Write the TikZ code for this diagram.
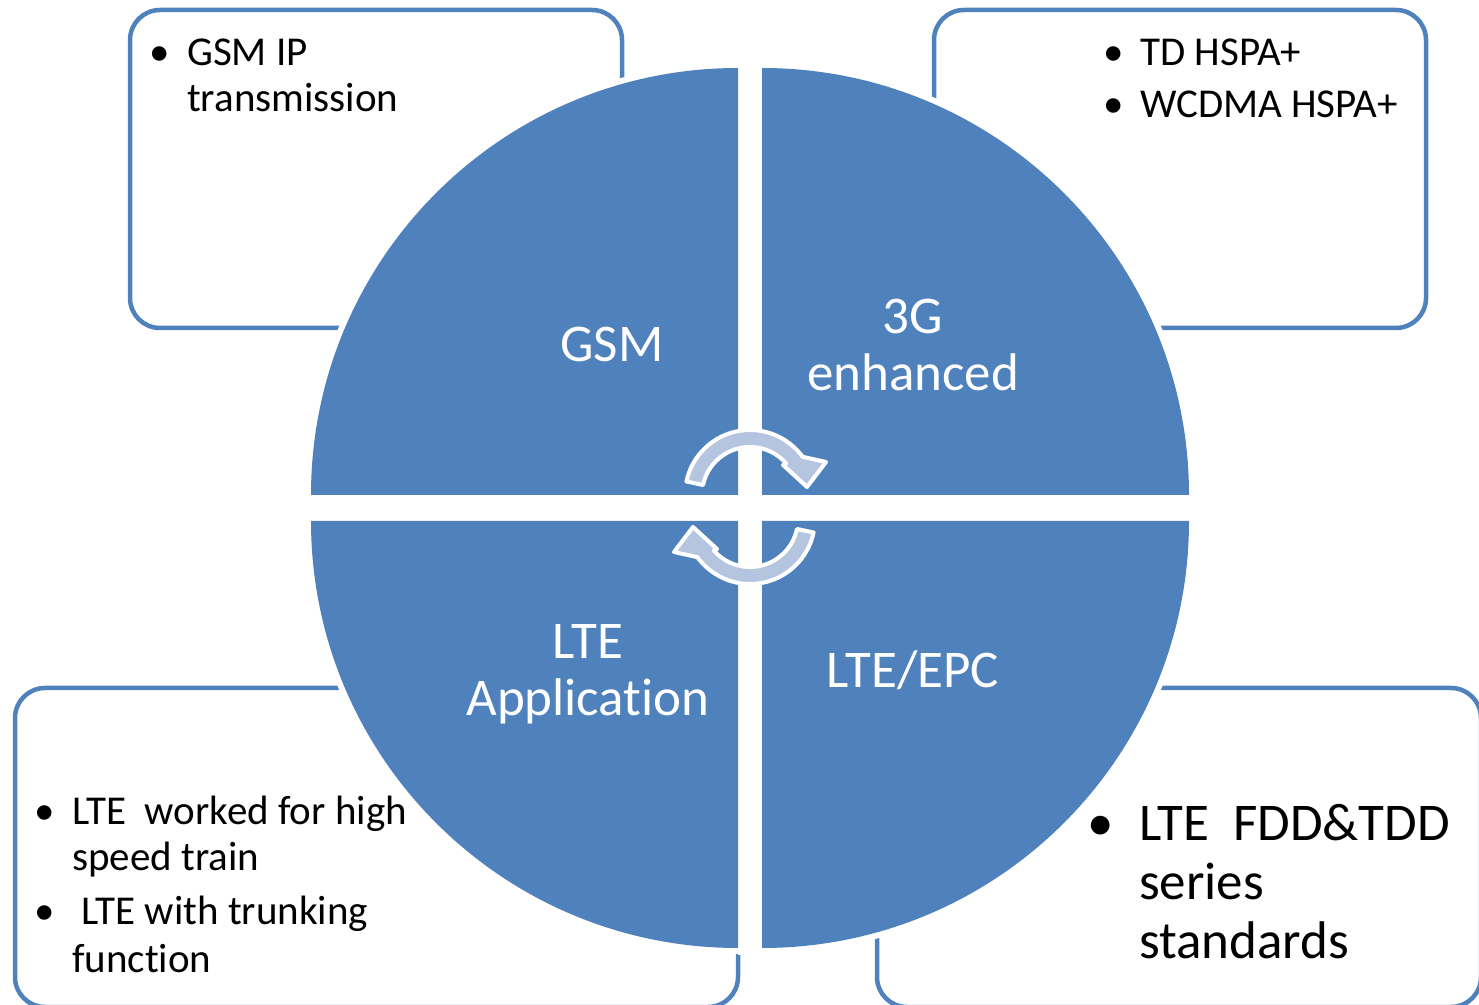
\documentclass[tikz,border=0pt]{standalone}
\usepackage{fontspec}
\setmainfont{Carlito}[Ligatures={NoCommon}]
\definecolor{qblue}{HTML}{4F81BD}
\definecolor{turnblue}{HTML}{B5C5E0}

\begin{document}
\begin{tikzpicture}
  [x=1pt,y=1pt,
    box/.style={draw=qblue,line width=4.5pt,rounded corners=30pt},
    halo/.style={fill=white},
    quad/.style={fill=qblue},
    lbl/.style={text=white,inner sep=0,anchor=base,align=center,
      font=\fontsize{53}{57}\selectfont},
    txt/.style={inner sep=0,anchor=base west,align=left,
      font=\fontsize{41}{46}\selectfont},
    bigtxt/.style={txt,font=\fontsize{53}{59}\selectfont},
    bul/.style={inner sep=0,anchor=base,font=\fontsize{41}{46}\selectfont},
    bigbul/.style={bul,font=\fontsize{53}{59}\selectfont},
    turn/.style={fill=turnblue,draw=white,line width=4pt,line join=round},
]

  \useasboundingbox (0,0) rectangle (1479,1004);

  \draw[box] (130,676) rectangle (622,994);
  \draw[box] (934,676) rectangle (1426,994);
  \draw[box] (15,-3) rectangle (738,316);
  \draw[box] (877,-3) rectangle (1481,316);

  \foreach \cx/\cy/\a in {738/509/90, 762/509/0, 738/483/180, 762/483/270}
    \fill[halo] (\cx,\cy) -- ++(\a:433)
      arc[start angle=\a, end angle=\a+90, radius=433] -- cycle;
  \fill[halo] (738,49) rectangle (762,947);

  \foreach \cx/\cy/\a in {738/509/90, 762/509/0, 738/483/180, 762/483/270}
    \fill[quad] (\cx,\cy) -- ++(\a:427)
      arc[start angle=\a, end angle=\a+90, radius=427] -- cycle;

  \foreach \r in {0,180} {
    \begin{scope}[shift={(750,497)},rotate=\r,shift={(0,12)}]
      \draw[turn] (168:65) arc[start angle=168, end angle=36, radius=65]
        -- (76,33) -- (57,8) -- (33,30) -- (41:48)
        arc[start angle=41, end angle=168, radius=48] -- cycle;
    \end{scope}
  }

  \node[lbl] (gsm) at (612,642) {GSM};
  \node[lbl] (g3) at (913,613) {3G\\enhanced};
  \node[lbl] (lteapp) at (588,288) {LTE\\Application};
  \node[lbl] (epc) at (913,316) {LTE/EPC};

  \node[bul] (b1) at (160,938) {•};
  \node[txt] (gsmip) at (187,892) {GSM IP\\transmission};

  \node[bul] (b2) at (1114,938) {•};
  \node[txt] (td) at (1140,938) {TD HSPA+};
  \node[bul] (b3) at (1114,886) {•};
  \node[txt] (wcdma) at (1140,886) {WCDMA HSPA+};

  \node[bul] (b4) at (45,180) {•};
  \node[txt] (hst) at (72,134) {LTE\ \ worked for high\\speed train};
  \node[bul] (b5) at (45,80) {•};
  \node[txt] (trunk) at (72,32) {\ LTE with trunking\\[2pt]function};

  \node[bigbul] (b6) at (1101,164) {•};
  \node[bigtxt] (fdd) at (1139,46) {LTE\ \ FDD\&TDD\\series\\standards};

\end{tikzpicture}
\end{document}
